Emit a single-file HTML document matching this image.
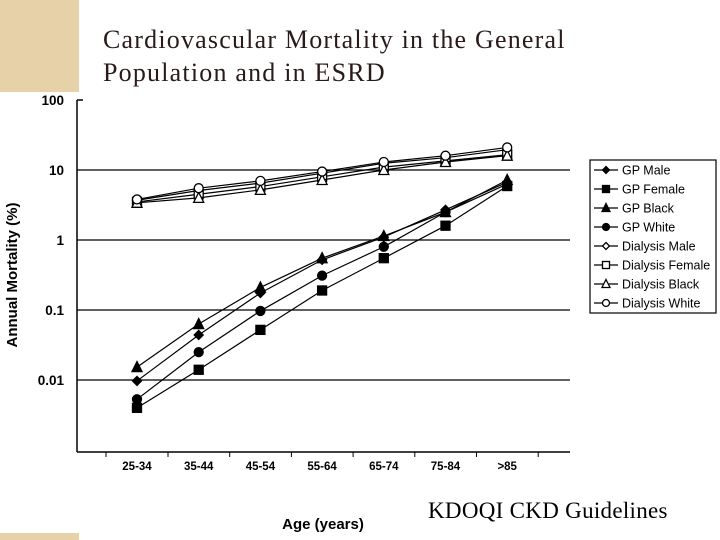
<!DOCTYPE html>
<html><head><meta charset="utf-8"><style>
body{margin:0;width:720px;height:540px;background:#fff;overflow:hidden;position:relative}
.t{position:absolute;font-family:"Liberation Serif",serif;color:#2a1a1a}
</style></head><body>
<div style="position:absolute;left:0;top:0;width:79px;height:92px;background:#e6d1a8"></div>
<div style="position:absolute;left:0;top:533px;width:79px;height:7px;background:#e6d1a8"></div>
<div class="t" style="left:103px;top:23px;font-size:26px;line-height:33px;letter-spacing:1.2px">Cardiovascular Mortality in the General<br>Population and in ESRD</div>
<div class="t" style="left:428px;top:498px;font-size:23px;letter-spacing:0.3px;color:#000">KDOQI CKD Guidelines</div>
<svg id="c" width="720" height="540" style="position:absolute;left:0;top:0" font-family="Liberation Sans, sans-serif"></svg>
<script>
const categories=["25-34","35-44","45-54","55-64","65-74","75-84",">85"];
const yTicks=[100,10,1,0.1,0.01];
const yTickLabels=["100","10","1","0.1","0.01"];
const seriesNames=["GP Male","GP Female","GP Black","GP White","Dialysis Male","Dialysis Female","Dialysis Black","Dialysis White"];
const gpMale=[0.0097,0.044,0.175,0.52,1.1,2.7,6.7];
const gpFemale=[0.004,0.014,0.052,0.19,0.55,1.6,5.9];
const gpBlack=[0.0153,0.063,0.21,0.55,1.14,2.5,7.2];
const gpWhite=[0.0053,0.025,0.097,0.31,0.8,2.5,6.3];
const dMale=[3.7,5.1,6.5,9.0,12.5,15,19.5];
const dFemale=[3.5,4.5,5.8,8.0,11,13.5,16.5];
const dBlack=[3.4,4.0,5.2,7.2,10,13,16];
const dWhite=[3.8,5.5,7.0,9.5,13,16,21];
const markers=["diamond","square","triangle","circle","diamond","square","triangle","circle"];
const filled=[true,true,true,true,false,false,false,false];
const allSeries=[gpMale,gpFemale,gpBlack,gpWhite,dMale,dFemale,dBlack,dWhite];

const svg=document.getElementById('c');const NS="http://www.w3.org/2000/svg";
function mk(t,a,p){const e=document.createElementNS(NS,t);for(const k in a)e.setAttribute(k,a[k]);(p||svg).appendChild(e);return e;}
const x=i=>137+i*61.7;
const y=v=>240-70*Math.log10(v);
let e=mk('line',{x1:77,y1:100,x2:77,y2:452,stroke:'#000','stroke-width':1.5});

e=mk('line',{x1:77,y1:452,x2:570,y2:452,stroke:'#000','stroke-width':1.5});

mk('line',{x1:77,y1:100,x2:83,y2:100,stroke:'#000','stroke-width':1.5});
yTicks.forEach((v,i)=>{
 if(i>0){const g=mk('line',{x1:77,y1:y(v),x2:570,y2:y(v),stroke:'#000','stroke-width':1.3});
 }
 const t=mk('text',{x:64,y:y(v)+5,'text-anchor':'end','font-size':13.5,'font-weight':'bold',fill:'#000'});t.textContent=yTickLabels[i];
 
});
categories.forEach((c,i)=>{
 mk('line',{x1:x(i)+31,y1:452,x2:x(i)+31,y2:457,stroke:'#000'});
 const t=mk('text',{x:x(i),y:470,'text-anchor':'middle','font-size':11.5,'font-weight':'bold',fill:'#000'});t.textContent=c;
 
});
mk('line',{x1:x(0)-31,y1:452,x2:x(0)-31,y2:457,stroke:'#000'});
let t=mk('text',{x:323,y:529,'text-anchor':'middle','font-size':15,'font-weight':'bold',fill:'#000'});t.textContent="Age (years)";

t=mk('text',{x:0,y:0,transform:'translate(17,275) rotate(-90)','text-anchor':'middle','font-size':15,'font-weight':'bold',fill:'#000'});t.textContent="Annual Mortality (%)";

function marker(kind,cx,cy,fill,p,s){
 s=s||4.5;const f=fill?'#000':'#fff';const a={fill:f,stroke:'#000','stroke-width':1.3};
 if(kind=='circle')return mk('circle',Object.assign({cx,cy,r:s},a),p);
 if(kind=='square')return mk('rect',Object.assign({x:cx-s,y:cy-s,width:2*s,height:2*s},a),p);
 if(kind=='triangle')return mk('polygon',Object.assign({points:`${cx},${cy-s-1} ${cx+s+0.5},${cy+s} ${cx-s-0.5},${cy+s}`},a),p);
 return mk('polygon',Object.assign({points:`${cx},${cy-s} ${cx+s},${cy} ${cx},${cy+s} ${cx-s},${cy}`},a),p);
}
allSeries.forEach((d,si)=>{
 const g=mk('g',{});
 
 
 mk('polyline',{points:d.map((v,i)=>x(i)+','+y(v)).join(' '),fill:'none',stroke:'#000','stroke-width':1.2},g);
 d.forEach((v,i)=>{const m=marker(markers[si],x(i),y(v),filled[si],g);
  });
});
const lg=mk('g',{});

mk('rect',{x:590,y:160,width:126,height:153,fill:'#fff',stroke:'#000','stroke-width':1.2},lg);
seriesNames.forEach((n,i)=>{
 const ly=170+i*19;
 const g=mk('g',{},lg);
 
 mk('line',{x1:594,y1:ly,x2:618,y2:ly,stroke:'#000','stroke-width':1.2},g);
 marker(markers[i],606,ly,filled[i],g,3.5);
 const tt=mk('text',{x:622,y:ly+4.5,'font-size':12.5,fill:'#000'},g);tt.textContent=n;
});
</script>
</body></html>
